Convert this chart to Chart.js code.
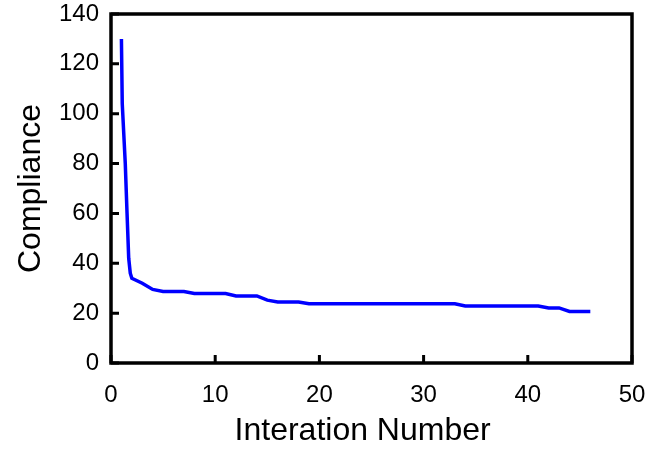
<!DOCTYPE html>
<html>
<head>
<meta charset="utf-8">
<script src="https://cdn.jsdelivr.net/npm/chart.js@4/dist/chart.umd.min.js"></script>
<style>
  html, body { margin: 0; padding: 0; background: #fff; }
  #wrap { width: 661px; height: 450px; }
</style>
</head>
<body>
<div id="wrap"><canvas id="graph_canva" width="661" height="450"></canvas></div>
<script>
// Iteration number (x) - first steps read between 1 and 2
var iter_x = [1, 1.08, 1.37, 1.54, 1.7, 1.85, 2, 3, 4, 5, 6, 7, 8, 9, 10,
    11, 12, 13, 14, 15, 16, 17, 18, 19, 20, 21, 22, 23, 24, 25, 26, 27, 28,
    29, 30, 31, 32, 33, 34, 35, 36, 37, 38, 39, 40, 41, 42, 43, 44, 45, 46];

// Compliance (y)
var compliance = [130, 104, 80, 60, 42, 36, 34, 32, 29.5, 28.7, 28.7, 28.7, 27.9, 27.9, 27.9,
    27.9, 26.9, 26.9, 26.9, 25.2, 24.5, 24.5, 24.5, 23.8, 23.8, 23.8, 23.8, 23.8, 23.8, 23.8, 23.8, 23.8, 23.8,
    23.8, 23.8, 23.8, 23.8, 23.8, 22.9, 22.9, 22.9, 22.9, 22.9, 22.9, 22.9, 22.9, 22.1, 22.1, 20.7, 20.7, 20.7];

var x_ticks = [0, 10, 20, 30, 40, 50];
var y_ticks = [0, 20, 40, 60, 80, 100, 120, 140];

var points = [];
for (var i = 0; i < iter_x.length; i++) {
    points.push({ x: iter_x[i], y: compliance[i] });
}

// frame + inward tick marks
var frame_plugin = {
    id: 'frame',
    afterDraw: function (chart) {
        var ctx = chart.ctx;
        var a = chart.chartArea;
        var sx = chart.scales.x;
        var sy = chart.scales.y;
        ctx.save();
        ctx.strokeStyle = '#000';
        ctx.lineWidth = 3;
        ctx.beginPath();
        for (var i = 0; i < x_ticks.length; i++) {
            var px = sx.getPixelForValue(x_ticks[i]);
            ctx.moveTo(px, a.bottom);
            ctx.lineTo(px, a.bottom - 8);
        }
        for (var j = 0; j < y_ticks.length; j++) {
            var py = sy.getPixelForValue(y_ticks[j]);
            ctx.moveTo(a.left, py);
            ctx.lineTo(a.left + 8, py);
        }
        ctx.stroke();
        ctx.lineWidth = 3.5;
        ctx.strokeRect(a.left, a.top, a.right - a.left, a.bottom - a.top);
        ctx.restore();
    }
};

var font_family = "'Liberation Sans', Arial, sans-serif";

var ctx = document.getElementById('graph_canva').getContext('2d');

new Chart(ctx, {
    type: 'line',
    data: {
        datasets: [{
            label: 'Compliance',
            data: points,
            borderColor: 'rgb(0, 0, 255)',
            borderWidth: 3.5,
            pointRadius: 0,
            fill: false,
            tension: 0
        }]
    },
    options: {
        responsive: false,
        animation: false,
        layout: { padding: { left: 0, top: 14, right: 29, bottom: 0 } },
        plugins: {
            legend: { display: false },
            tooltip: { enabled: false }
        },
        scales: {
            x: {
                type: 'linear',
                min: 0,
                max: 50,
                afterFit: function (scale) {
                    scale.height = 87;
                    scale.paddingLeft = 0;
                    scale.paddingRight = 0;
                },
                afterBuildTicks: function (scale) {
                    scale.ticks = x_ticks.map(function (v) { return { value: v }; });
                },
                border: { display: false },
                grid: { display: false, drawTicks: false },
                ticks: {
                    color: '#000',
                    padding: 18,
                    maxRotation: 0,
                    font: { family: font_family, size: 24 }
                },
                title: {
                    display: true,
                    text: 'Interation Number  ',
                    color: '#000',
                    padding: { top: 4, bottom: 0 },
                    font: { family: font_family, size: 32 }
                }
            },
            y: {
                type: 'linear',
                min: 0,
                max: 140,
                afterFit: function (scale) {
                    scale.width = 111;
                    scale.paddingTop = 0;
                    scale.paddingBottom = 0;
                },
                afterBuildTicks: function (scale) {
                    scale.ticks = y_ticks.map(function (v) { return { value: v }; });
                },
                border: { display: false },
                grid: { display: false, drawTicks: false },
                ticks: {
                    color: '#000',
                    padding: 12,
                    font: { family: font_family, size: 24 }
                },
                title: {
                    display: true,
                    text: 'Compliance',
                    color: '#000',
                    padding: { top: 12, bottom: 0 },
                    font: { family: font_family, size: 32 }
                }
            }
        }
    },
    plugins: [frame_plugin]
});
</script>
</body>
</html>
